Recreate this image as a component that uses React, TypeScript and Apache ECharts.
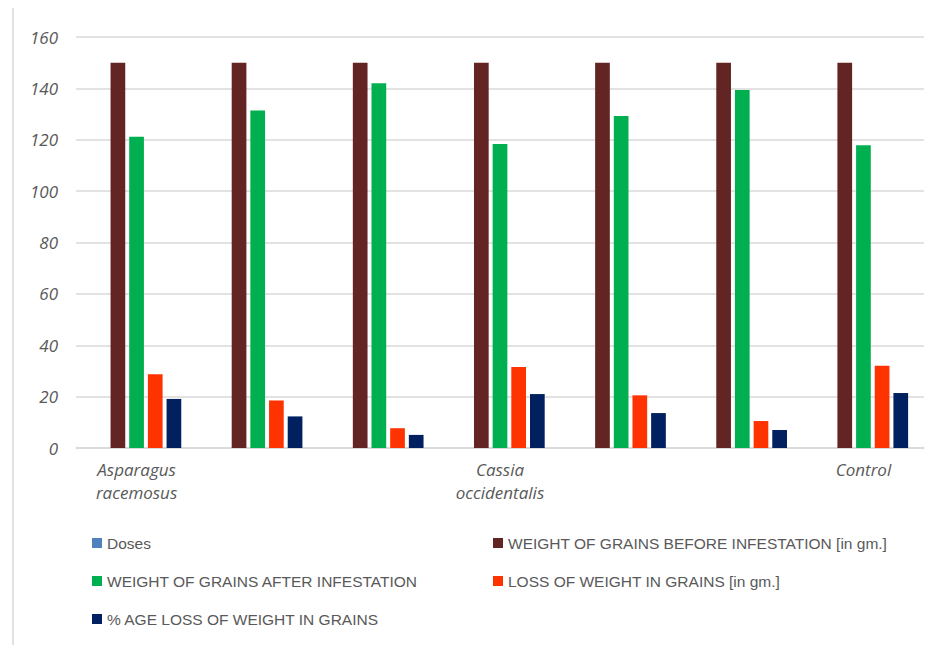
import React, { useEffect, useRef } from "react";
import * as echarts from "echarts";

const categories = ["Asparagus\nracemosus", "", "", "Cassia\noccidentalis", "", "", "Control"];
const seriesNames = [
  "Doses",
  "WEIGHT OF GRAINS BEFORE INFESTATION [in gm.]",
  "WEIGHT OF GRAINS AFTER INFESTATION",
  "LOSS OF WEIGHT IN GRAINS [in gm.]",
  "% AGE LOSS OF WEIGHT IN GRAINS",
];
const doses = [0, 0, 0, 0, 0, 0, 0];
const before = [150, 150, 150, 150, 150, 150, 150];
const after = [121.2, 131.4, 142.0, 118.3, 129.2, 139.4, 117.9];
const loss = [28.7, 18.5, 7.7, 31.5, 20.5, 10.5, 32.0];
const pctLoss = [19.1, 12.3, 5.1, 21.0, 13.6, 7.0, 21.4];
const colors = ["#4F81BD", "#632523", "#00B050", "#FF3300", "#002060"];
const yTicks = { min: 0, max: 160, interval: 20 };

export default function App() {
  const ref = useRef<HTMLDivElement>(null);
  useEffect(() => {
    if (!ref.current) return;
    const chart = echarts.init(ref.current, null, { renderer: "svg" });
    const values = [doses, before, after, loss, pctLoss];
    const legendText = {
      fontFamily: "Liberation Sans Narrow, Arial Narrow, sans-serif",
      fontSize: 15.5,
      color: "#595959",
    };
    chart.setOption({
      animation: false,
      backgroundColor: "#ffffff",
      grid: { left: 68, right: 9, top: 29, bottom: 197, containLabel: false },
      graphic: [
        {
          type: "rect",
          shape: { x: 5, y: -1, width: 2000, height: 2000 },
          style: { fill: "none", stroke: "#d9d9d9", lineWidth: 1.5 },
          silent: true,
          z: -10,
        },
      ],
      legend: [
        {
          orient: "vertical",
          left: 79,
          top: 522,
          itemWidth: 10,
          itemHeight: 10,
          itemGap: 22,
          icon: "rect",
          textStyle: legendText,
          data: [seriesNames[0], seriesNames[2], seriesNames[4]],
        },
        {
          orient: "vertical",
          left: 480,
          top: 522,
          itemWidth: 10,
          itemHeight: 10,
          itemGap: 22,
          icon: "rect",
          textStyle: legendText,
          data: [seriesNames[1], seriesNames[3]],
        },
      ],
      xAxis: {
        type: "category",
        data: categories,
        axisLine: { show: true, lineStyle: { color: "#d9d9d9", width: 1.5 } },
        axisTick: { show: false },
        axisLabel: {
          interval: 0,
          margin: 10,
          fontFamily: "Open Sans, sans-serif",
          fontStyle: "italic",
          fontSize: 17,
          lineHeight: 23,
          color: "#595959",
        },
      },
      yAxis: {
        type: "value",
        min: yTicks.min,
        max: yTicks.max,
        interval: yTicks.interval,
        axisLine: { show: false },
        axisTick: { show: false },
        splitLine: { lineStyle: { color: "#d9d9d9", width: 1.5 } },
        axisLabel: {
          margin: 18,
          fontFamily: "Open Sans, sans-serif",
          fontStyle: "italic",
          fontSize: 17,
          color: "#595959",
        },
      },
      series: seriesNames.map((name, i) => ({
        name,
        type: "bar",
        data: values[i],
        barWidth: 14.7,
        barGap: "27%",
        itemStyle: { color: colors[i] },
      })),
    });
    return () => chart.dispose();
  }, []);
  return <div ref={ref} style={{ width: 925, height: 637 }} />;
}
